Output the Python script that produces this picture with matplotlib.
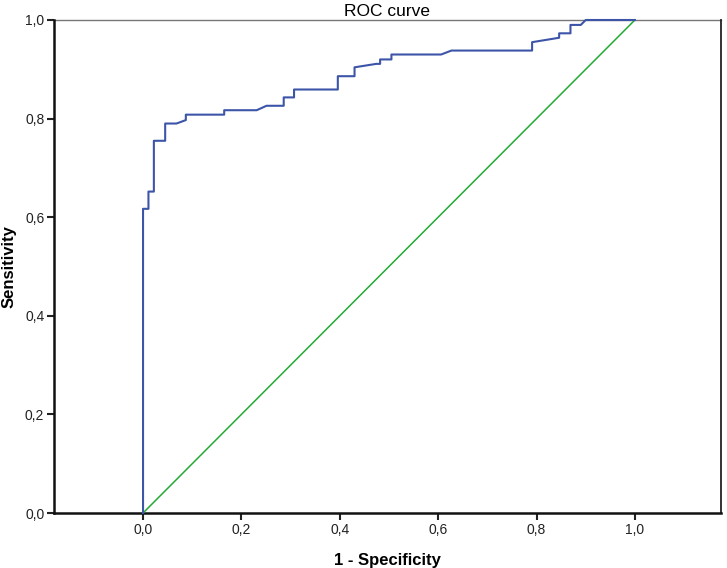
# ROC curve, SPSS style

import numpy as np
import matplotlib.pyplot as plt
from matplotlib.ticker import FuncFormatter

plt.rcParams['font.family'] = ['Liberation Sans', 'DejaVu Sans']

# ROC curve vertices (1 - specificity, sensitivity)
fpr = [0.0, 0.0, 0.011, 0.011, 0.022, 0.022, 0.045, 0.045, 0.068, 0.087,
       0.087, 0.165, 0.165, 0.231, 0.251, 0.286, 0.286, 0.307, 0.307, 0.396,
       0.396, 0.430, 0.430, 0.474, 0.482, 0.482, 0.505, 0.505, 0.606, 0.627,
       0.791, 0.791, 0.846, 0.846, 0.869, 0.869, 0.890, 0.900, 1.0]
tpr = [0.0, 0.617, 0.617, 0.652, 0.652, 0.755, 0.755, 0.790, 0.790, 0.797,
       0.808, 0.808, 0.817, 0.817, 0.826, 0.826, 0.843, 0.843, 0.859, 0.859,
       0.886, 0.886, 0.904, 0.911, 0.911, 0.920, 0.920, 0.930, 0.930, 0.938,
       0.938, 0.955, 0.964, 0.973, 0.973, 0.990, 0.990, 1.0, 1.0]

# reference line
ref_x = [0.0, 1.0]
ref_y = [0.0, 1.0]

tick_vals = [0.0, 0.2, 0.4, 0.6, 0.8, 1.0]

fig = plt.figure(figsize=(7.27, 5.68), dpi=100)
ax = fig.add_axes([0.0743, 0.0968, 0.9174, 0.868])

ax.plot(ref_x, ref_y, color='#22aa33', lw=1.1, clip_on=False, zorder=3)
ax.plot(fpr, tpr, color='#3d55a8', lw=1.5, clip_on=False, zorder=4)

ax.set_xlim(-0.181, 1.175)
ax.set_ylim(0.0, 1.0)
ax.set_xticks(tick_vals)
ax.set_yticks(tick_vals)

comma = FuncFormatter(lambda v, p: f'{v:.1f}'.replace('.', ','))
ax.xaxis.set_major_formatter(comma)
ax.yaxis.set_major_formatter(comma)
ax.tick_params(direction='out', length=5, width=1.5, labelsize=10,
               colors='#222222', pad=2)

for s in ['left', 'bottom']:
    ax.spines[s].set_linewidth(1.8)
    ax.spines[s].set_color('#111111')
ax.spines['right'].set_linewidth(1.3)
ax.spines['right'].set_color('#222222')
ax.spines['top'].set_linewidth(1.0)
ax.spines['top'].set_color('#777777')
ax.spines['top'].set_zorder(2)

ax.set_title('ROC curve', fontsize=12.5, pad=3)
ax.set_xlabel('1 - Specificity', fontsize=12, fontweight='bold', labelpad=12)
ax.set_ylabel('Sensitivity', fontsize=12, fontweight='bold', labelpad=6)

fig.savefig('out.png', dpi=100)
